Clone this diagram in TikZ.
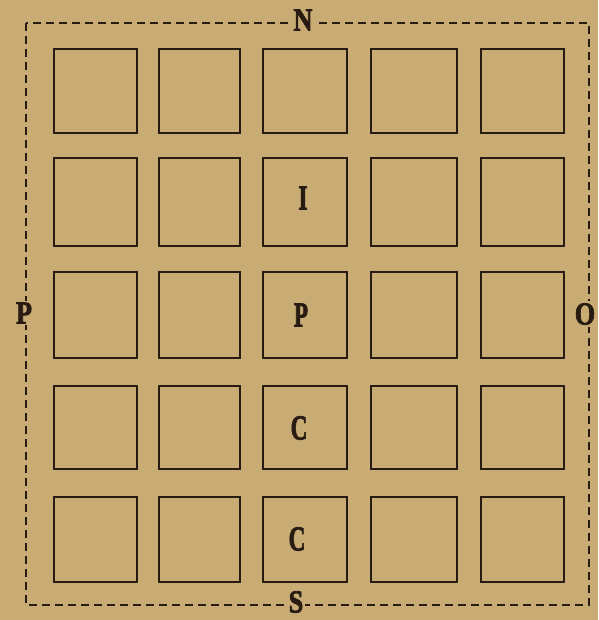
\documentclass[tikz,border=0pt]{standalone}
\usepackage{fontspec}
\usepackage{graphicx}
\setmainfont{Liberation Serif}
\newfontfamily\heavy[BoldFeatures={FakeBold=2.5}]{Liberation Serif}
\definecolor{paper}{RGB}{200,172,116}
\definecolor{ink}{RGB}{40,28,18}
\newcommand{\outerlab}[1]{\scalebox{0.82}[1]{#1}}
\newcommand{\innerlab}[1]{\scalebox{0.66}[1]{#1}}
\tikzset{
  cell/.style={draw=ink, line width=2.5pt, inner sep=0pt},
  letter/.style={text=ink, inner sep=0pt, font=\fontsize{35}{35}\selectfont\heavy\bfseries},
  edgelab/.style={fill=paper, inner sep=2pt, text=ink, font=\fontsize{32}{32}\selectfont\heavy\bfseries},
  frame/.style={draw=ink, line width=2.3pt, dash pattern=on 8pt off 5pt}
}
\begin{document}
\begin{tikzpicture}[x=1pt,y=-1pt]
\fill[paper] (0,0) rectangle (598,620);
\useasboundingbox (0,0) rectangle (598,620);
% dashed frame
\draw[frame] (26,23) rectangle (589,605);
% edge labels
\node[edgelab] (n) at (303,20) {\outerlab{N}};
\node[edgelab] (s) at (296,602) {\outerlab{S}};
\node[edgelab] (w) at (24,313) {\outerlab{P}};
\node[edgelab] (e) at (585,314) {\outerlab{O}};
% grid of cells
\foreach \c/\xa/\xb in {1/54/137, 2/159/240, 3/263/347, 4/371/457, 5/481/564}{
  \foreach \r/\ya/\yb in {1/49/133, 2/158/246, 3/272/358, 4/386/469, 5/497/582}{
    \node[cell, minimum width={(\xb-\xa)*1pt}, minimum height={(\yb-\ya)*1pt}]
      (c\r\c) at ({(\xa+\xb)/2},{(\ya+\yb)/2}) {};
  }
}
% letters in the middle column
\node[letter] (li) at (303,198) {\innerlab{I}};
\node[letter] (lp) at (301,315) {\innerlab{P}};
\node[letter] (lc1) at (299,428) {\innerlab{C}};
\node[letter] (lc2) at (297,539) {\innerlab{C}};
\end{tikzpicture}
\end{document}
